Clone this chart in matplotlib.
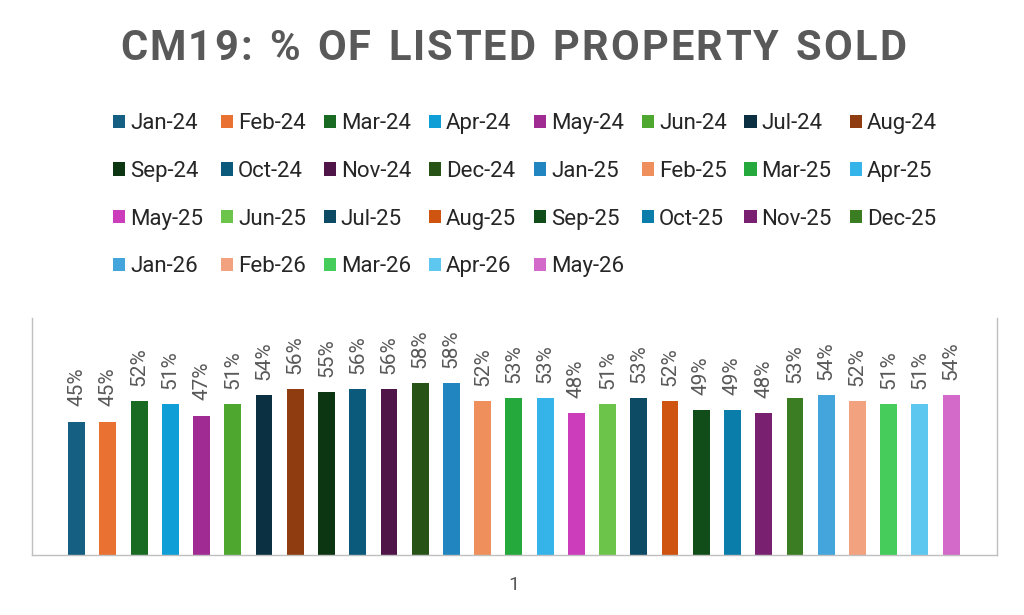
import numpy as np
import matplotlib.pyplot as plt

# Datos del grafico
months = ["Jan-24", "Feb-24", "Mar-24", "Apr-24", "May-24", "Jun-24", "Jul-24", "Aug-24",
          "Sep-24", "Oct-24", "Nov-24", "Dec-24", "Jan-25", "Feb-25", "Mar-25", "Apr-25",
          "May-25", "Jun-25", "Jul-25", "Aug-25", "Sep-25", "Oct-25", "Nov-25", "Dec-25",
          "Jan-26", "Feb-26", "Mar-26", "Apr-26", "May-26"]
pct_sold = [45, 45, 52, 51, 47, 51, 54, 56, 55, 56, 56, 58, 58, 52, 53, 53,
            48, 51, 53, 52, 49, 49, 48, 53, 54, 52, 51, 51, 54]
colors = ["#156082", "#E97132", "#196B24", "#0F9ED5", "#A02B93", "#4EA72E", "#0B3041", "#8E3C10",
          "#0C3512", "#0B5A7C", "#501548", "#275317", "#2186C0", "#EF905C", "#25A83C", "#35B4EA",
          "#CC3DBB", "#6CC44A", "#0D4A64", "#CF540F", "#114D18", "#0A7DAA", "#7A2070", "#3B7D22",
          "#43A5DC", "#F2A27E", "#45CC5A", "#5EC7F0", "#D36ACA"]
x_label = "1"
title = "CM19: % OF LISTED PROPERTY SOLD"

gray = "#595959"
plt.rcParams['font.family'] = ['Roboto', 'DejaVu Sans']

fig = plt.figure(figsize=(10.24, 6.15), dpi=100)
ax = fig.add_axes([0.03125, 0.0976, 0.9424, 0.3853])

pos = np.arange(len(months))
handles = []
for i in range(len(months)):
    b = ax.bar(pos[i], pct_sold[i], width=0.54, color=colors[i], label=months[i], zorder=2)
    handles.append(b)
    ax.annotate(f"{pct_sold[i]}%", (pos[i], pct_sold[i]), xytext=(0, 11), textcoords="offset points",
                rotation=90, ha="center", va="bottom", fontsize=15, color=gray)

ax.set_xlim(-1.43, 29.47)
ax.set_ylim(0, 80)
ax.set_xticks([14])
ax.set_xticklabels([x_label], fontsize=14, color=gray)
ax.tick_params(axis="x", length=0, pad=15)
ax.set_yticks([])
for s in ["left", "right", "bottom"]:
    ax.spines[s].set_color("#BFBFBF")
    ax.spines[s].set_linewidth(1)
ax.spines["top"].set_visible(False)

# Titulo con espaciado entre letras
fig.canvas.draw()
renderer = fig.canvas.get_renderer()
spacing = 2.2  # px entre letras
widths = []
for ch in title:
    t = fig.text(0, 0, ch if ch != " " else "n", fontsize=30, fontweight="bold")
    w = t.get_window_extent(renderer).width
    if ch == " ":
        w = w * 0.55
    widths.append(w)
    t.remove()
total = sum(widths) + spacing * (len(title) - 1)
x = 513 - total / 2
for ch, w in zip(title, widths):
    fig.text(x / 1024, 1 - 48 / 615, ch, fontsize=30, fontweight="bold", color=gray,
             ha="left", va="center")
    x += w + spacing

# Leyenda por filas (orden de Excel)
ncol = 8
order = []
for c in range(ncol):
    for r in range(4):
        k = r * ncol + c
        if k < len(months):
            order.append(k)
leg = fig.legend([handles[k] for k in order], [months[k] for k in order],
                 loc="upper left", bbox_to_anchor=(0.0995, 0.834), ncol=ncol, frameon=False,
                 fontsize=16, handlelength=0.55, handleheight=0.55, handletextpad=0.22,
                 columnspacing=0.8, labelspacing=1.2, borderpad=0)
for t in leg.get_texts():
    t.set_color("#262626")

fig.savefig("out.png", dpi=100)
